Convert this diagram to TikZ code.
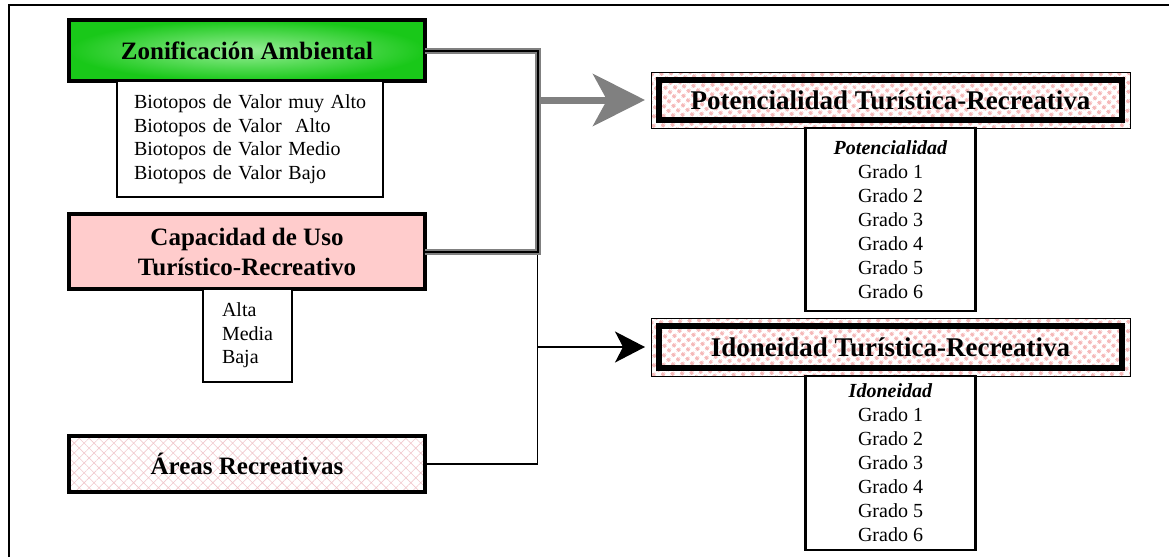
\documentclass[tikz,border=0pt]{standalone}
\usepackage{fontspec}
\setmainfont{Liberation Serif}
\usetikzlibrary{arrows.meta,patterns.meta,calc}
\definecolor{zgreen}{RGB}{25,200,25}
\definecolor{zlight}{RGB}{150,238,150}
\definecolor{cpink}{RGB}{255,204,204}
\definecolor{dotpink}{RGB}{245,185,185}
\definecolor{brickpink}{RGB}{240,200,205}
\definecolor{lgray}{RGB}{128,128,128}
\tikzset{
  titlebox/.style={draw, line width=3.5pt, outer sep=0pt, inner sep=0pt, font=\bfseries\fontsize{25}{30}\selectfont, align=center, minimum width=356pt},
  listbox/.style={draw, line width=2.2pt, outer sep=0pt, inner sep=0pt, font=\fontsize{20}{23.5}\selectfont, fill=white},
  resbox/.style={draw, line width=1pt, outer sep=0pt, inner sep=0pt, font=\bfseries\fontsize{27}{30}\selectfont, minimum width=479pt, pattern={Dots[distance=6.5pt,radius=2.3pt,angle=45]}, pattern color=dotpink},
  gridbox/.style={listbox, align=center, font=\fontsize{20}{24}\selectfont, minimum width=170pt},
  grayconn/.style={draw=lgray, double=black, line width=2pt, double distance=2pt},
  blackconn/.style={draw=black, line width=1.6pt},
}
\begin{document}
\begin{tikzpicture}[x=1pt,y=-1pt]
\useasboundingbox (0,0) rectangle (1169,557);
\draw[line width=2pt] (9,557) -- (9,5) -- (1169,5);

% left column
\node[titlebox, minimum height=61pt, inner color=zlight, outer color=zgreen] (zon) at (247,50.5) {Zonificación Ambiental};
\node[listbox, minimum width=266pt, minimum height=116pt, text width=232pt, align=left] (bio) at (250,139)
  {\mbox{Biotopos de Valor muy Alto}\\Biotopos de Valor~ Alto\\Biotopos de Valor Medio\\Biotopos de Valor Bajo};
\node[titlebox, minimum height=75pt, fill=cpink] (cap) at (247,251.5) {Capacidad de Uso\\Turístico-Recreativo};
\node[listbox, minimum width=89pt, minimum height=93pt, text width=51pt, align=left] (alta) at (247.5,335.5)
  {Alta\\Media\\Baja};
\node[titlebox, minimum height=56pt, pattern={Hatch[angle=45,distance=7pt,line width=0.6pt]}, pattern color=brickpink] (areas) at (247,464) {Áreas Recreativas};

% right column
\node[resbox, minimum height=56pt] (pot) at (890.5,100) {Potencialidad Turística-Recreativa};
\draw[line width=6pt] ($(pot.north west)+(8,8)$) rectangle ($(pot.south east)+(-8,-8)$);
\node[gridbox, minimum height=183pt, anchor=north] (potl) at (pot.south)
  {\textbf{\textit{Potencialidad}}\\Grado 1\\Grado 2\\Grado 3\\Grado 4\\Grado 5\\Grado 6};

\node[resbox, minimum height=58pt] (ido) at (890.5,347) {Idoneidad Turística-Recreativa};
\draw[line width=6pt] ($(ido.north west)+(8,8)$) rectangle ($(ido.south east)+(-8,-8)$);
\node[gridbox, minimum height=174pt, anchor=north] (idol) at (ido.south)
  {\textbf{\textit{Idoneidad}}\\Grado 1\\Grado 2\\Grado 3\\Grado 4\\Grado 5\\Grado 6};

% connectors
\coordinate (jx) at (537.5,0);
\draw[blackconn] (areas.east) -- (areas.east -| jx) -- (cap.east -| jx);
\draw[grayconn] (zon.east) -- (zon.east -| jx) -- (cap.east -| jx) -- (cap.east);
\draw[draw=lgray, line width=7pt, shorten >=6pt, -{Stealth[length=52pt,width=52pt,inset=14pt]}]
  ($(pot.west -| jx)+(3,0)$) -- (pot.west);
\draw[blackconn, shorten >=6pt, -{Stealth[length=30pt,width=31pt,inset=8pt]}]
  (ido.west -| jx) -- (ido.west);
\end{tikzpicture}
\end{document}
